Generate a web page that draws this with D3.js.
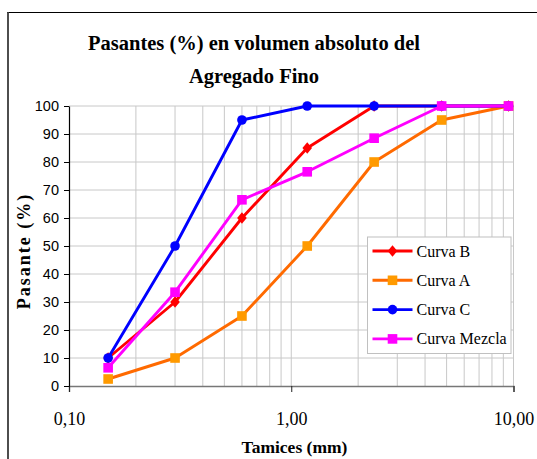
<!DOCTYPE html>
<html>
<head>
<meta charset="utf-8">
<script src="https://cdn.jsdelivr.net/npm/d3@7"></script>
<style>
  body { margin: 0; background: #fff; }
  svg { display: block; }
</style>
</head>
<body>
<div id="chart"></div>
<script>
// sieve sizes (mm) and passing percentages
var tamices = [0.15, 0.3, 0.6, 1.18, 2.36, 4.75, 9.5];
var curvaB = [10, 30, 60, 85, 100, 100, 100];
var curvaA = [2.5, 10, 25, 50, 80, 95, 100];
var curvaC = [10, 50, 95, 100, 100, 100, 100];
var curvaMezcla = [6.5, 33.5, 66.5, 76.5, 88.5, 100, 100];
var xTickValues = [0.1, 1, 10];
var xTickLabels = ["0,10", "1,00", "10,00"];
var yTickValues = [0, 10, 20, 30, 40, 50, 60, 70, 80, 90, 100];

var svgWidth = 537;
var svgHeight = 459;

var margin = { top: 106, right: 24, bottom: 73, left: 69 };
var width = 513.5 - margin.left;
var height = 386 - margin.top;

var svg = d3.select("#chart")
    .append("svg")
    .attr("width", svgWidth)
    .attr("height", svgHeight);

// outer chart frame (cut at right and bottom)
svg.append("line")
    .attr("x1", 7).attr("x2", svgWidth).attr("y1", 12.5).attr("y2", 12.5)
    .attr("stroke", "#000").attr("stroke-width", 1.2);
svg.append("line")
    .attr("x1", 8).attr("x2", 8).attr("y1", 12).attr("y2", svgHeight)
    .attr("stroke", "#3a3a3a").attr("stroke-width", 1.8);

var chartGroup = svg.append("g")
    .attr("transform", `translate(${margin.left}, ${margin.top})`);

var xScale = d3.scaleLog().domain([0.1, 10]).range([0, width]);
var yScale = d3.scaleLinear().domain([0, 100]).range([height, 0]);

// grid lines
var minorX = [];
[0.1, 1].forEach(function (dec) {
    for (var k = 2; k <= 10; k++) minorX.push(dec * k);
});
chartGroup.append("g")
    .selectAll("line")
    .data(minorX)
    .enter()
    .append("line")
    .attr("x1", d => xScale(d)).attr("x2", d => xScale(d))
    .attr("y1", 0).attr("y2", height)
    .attr("stroke", "#c8c8c8").attr("stroke-width", 1);

chartGroup.append("g")
    .selectAll("line")
    .data(yTickValues.slice(1))
    .enter()
    .append("line")
    .attr("x1", 0).attr("x2", width)
    .attr("y1", d => yScale(d)).attr("y2", d => yScale(d))
    .attr("stroke", "#c8c8c8").attr("stroke-width", 1);

// axes
var bottomAxis = d3.axisBottom(xScale)
    .tickValues(xTickValues)
    .tickSize(6)
    .tickPadding(20)
    .tickFormat((d, i) => xTickLabels[i]);
var xAxis = chartGroup.append("g")
    .attr("transform", `translate(0, ${height})`)
    .call(bottomAxis);
xAxis.select(".domain").attr("stroke", "#777").attr("stroke-width", 1.5);
xAxis.selectAll(".tick line").attr("stroke", "#222");
xAxis.selectAll("text")
    .attr("font-family", "Liberation Serif, Times New Roman, serif")
    .attr("font-size", "18px")
    .attr("fill", "#000");

var leftAxis = d3.axisLeft(yScale)
    .tickValues(yTickValues)
    .tickSize(5)
    .tickPadding(5)
    .tickSizeOuter(0);
var yAxis = chartGroup.append("g").call(leftAxis);
yAxis.select(".domain").attr("stroke", "#000").attr("stroke-width", 1.2);
yAxis.selectAll(".tick line").attr("stroke", "#000");
yAxis.selectAll("text")
    .attr("font-family", "Liberation Sans, Arial, sans-serif")
    .attr("font-size", "14.5px")
    .attr("fill", "#000");

// series
var series = [
    { name: "Curva B", values: curvaB, line: "#ff0000", fill: "#ff0000", marker: "diamond" },
    { name: "Curva A", values: curvaA, line: "#ff6a00", fill: "#ff9a00", marker: "square" },
    { name: "Curva C", values: curvaC, line: "#0000ff", fill: "#0000ff", marker: "circle" },
    { name: "Curva Mezcla", values: curvaMezcla, line: "#ff00ff", fill: "#ff00ff", marker: "square" }
];

var lineGen = d3.line()
    .x(d => xScale(d[0]))
    .y(d => yScale(d[1]));

function drawMarker(g, type, color, cx, cy) {
    if (type === "circle") {
        g.append("circle").attr("cx", cx).attr("cy", cy).attr("r", 4.8).attr("fill", color);
    } else if (type === "square") {
        g.append("rect").attr("x", cx - 4.8).attr("y", cy - 4.8)
            .attr("width", 9.6).attr("height", 9.6).attr("fill", color);
    } else {
        g.append("path")
            .attr("d", `M${cx},${cy - 5.8}L${cx + 4.8},${cy}L${cx},${cy + 5.8}L${cx - 4.8},${cy}Z`)
            .attr("fill", color);
    }
}

series.forEach(function (s) {
    var pts = tamices.map((t, i) => [t, s.values[i]]);
    chartGroup.append("path")
        .datum(pts)
        .attr("d", lineGen)
        .attr("fill", "none")
        .attr("stroke", s.line)
        .attr("stroke-width", 2.9)
        .attr("stroke-linejoin", "round");
    var mg = chartGroup.append("g");
    pts.forEach(function (p) {
        drawMarker(mg, s.marker, s.fill, xScale(p[0]), yScale(p[1]));
    });
});

// legend
var legend = svg.append("g").attr("transform", "translate(367.5, 237)");
legend.append("rect")
    .attr("width", 143.5).attr("height", 116.5)
    .attr("fill", "#fff").attr("stroke", "#c0c0c0").attr("stroke-width", 1);
series.forEach(function (s, i) {
    var y = 14 + i * 29.3;
    legend.append("line")
        .attr("x1", 5).attr("x2", 45).attr("y1", y).attr("y2", y)
        .attr("stroke", s.line).attr("stroke-width", 2.9);
    drawMarker(legend, s.marker, s.fill, 25, y);
    legend.append("text")
        .attr("x", 49).attr("y", y + 5.5)
        .attr("font-family", "Liberation Serif, Times New Roman, serif")
        .attr("font-size", "16px")
        .attr("fill", "#000")
        .text(s.name);
});

// titles
var title = svg.append("text")
    .attr("text-anchor", "middle")
    .attr("font-family", "Liberation Serif, Times New Roman, serif")
    .attr("font-weight", "bold")
    .attr("font-size", "20.5px")
    .attr("fill", "#000");
title.append("tspan").attr("x", 254).attr("y", 50).text("Pasantes (%) en volumen absoluto del");
title.append("tspan").attr("x", 254).attr("y", 83).text("Agregado Fino");

svg.append("text")
    .attr("x", 294.5).attr("y", 453)
    .attr("text-anchor", "middle")
    .attr("font-family", "Liberation Serif, Times New Roman, serif")
    .attr("font-weight", "bold")
    .attr("font-size", "17.5px")
    .text("Tamices (mm)");

svg.append("text")
    .attr("transform", "translate(30, 251) rotate(-90)")
    .attr("text-anchor", "middle")
    .attr("font-family", "Liberation Serif, Times New Roman, serif")
    .attr("font-weight", "bold")
    .attr("font-size", "18px")
    .attr("letter-spacing", "2px")
    .text("Pasante (%)");
</script>
</body>
</html>
